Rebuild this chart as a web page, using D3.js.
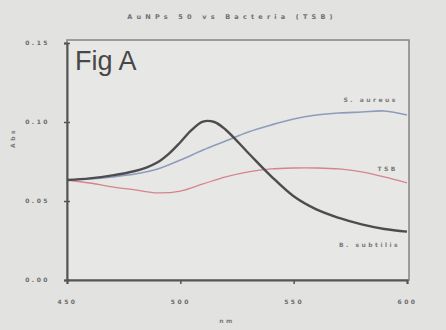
<!DOCTYPE html>
<html>
<head>
<meta charset="utf-8">
<script src="https://cdn.jsdelivr.net/npm/d3@7"></script>
<style>
  body { margin: 0; background: #e2e2e0; }
  svg { display: block; }
  .axis text { fill: #6a6a6a; font-family: "DejaVu Sans", sans-serif; font-size: 6px; letter-spacing: 2.5px; font-weight: bold; }
  .lbl { fill: #7a7a7a; font-family: "DejaVu Sans", sans-serif; font-size: 6px; letter-spacing: 2.5px; font-weight: bold; }
</style>
</head>
<body>
<svg id="chart" width="446" height="330"></svg>
<script>
const title = "AuNPs 50 vs Bacteria (TSB)";
const figLabel = "Fig A";
const xTicks = [450, 500, 550, 600];
const yTicks = [0, 0.05, 0.10, 0.15];
const yTickLabels = ["0.00", "0.05", "0.10", "0.15"];

const wavelengths = [450, 460, 470, 480, 490, 500, 510, 520, 530, 540, 550, 560, 570, 580, 590, 600];
const blueVals = [0.0633, 0.0639, 0.0652, 0.0671, 0.0703, 0.0759, 0.0823, 0.0880, 0.0937, 0.0981, 0.1019, 0.1044, 0.1057, 0.1063, 0.1070, 0.1044];
const redVals  = [0.0633, 0.0614, 0.0589, 0.0570, 0.0551, 0.0563, 0.0608, 0.0652, 0.0684, 0.0703, 0.0709, 0.0709, 0.0703, 0.0684, 0.0652, 0.0614];

const blackWl   = [450, 460, 470, 480, 485, 490, 495, 500, 505, 510, 515, 520, 530, 540, 550, 560, 570, 580, 590, 600];
const blackVals = [0.0633, 0.0643, 0.0662, 0.0690, 0.0712, 0.0745, 0.0800, 0.0872, 0.0950, 0.1003, 0.1000, 0.0951, 0.0804, 0.0658, 0.0530, 0.0447, 0.0393, 0.0352, 0.0323, 0.0306];

const seriesNames = ["S. aureus", "TSB", "B. subtilis"];

const svg = d3.select("#chart");
const margin = {top: 43, right: 39, bottom: 50, left: 67};
const width = 446 - margin.left - margin.right,
      height = 330 - margin.top - margin.bottom;

const x = d3.scaleLinear().domain([450, 600]).range([0, width]);
const y = d3.scaleLinear().domain([0, 0.15]).range([height, 0]);

const g = svg.append("g")
    .attr("transform", "translate(" + margin.left + "," + margin.top + ")");

// plot frame (top + right lighter)
g.append("rect")
    .attr("x", 0).attr("y", -3)
    .attr("width", width + 2).attr("height", height + 3)
    .attr("fill", "#e7e7e5")
    .attr("stroke", "#8a8a8a")
    .attr("stroke-width", 1.6);

// axes
g.append("g")
    .attr("class", "axis axis--x")
    .attr("transform", "translate(0," + height + ")")
    .call(d3.axisBottom(x).tickValues(xTicks).tickSize(4).tickPadding(16).tickFormat(d3.format("d")));

g.append("g")
    .attr("class", "axis axis--y")
    .call(d3.axisLeft(y).tickValues(yTicks).tickSize(3).tickPadding(14)
      .tickFormat((d, i) => yTickLabels[i]));

g.selectAll(".axis .domain").attr("stroke", "#555").attr("stroke-width", 2);
g.selectAll(".axis .tick line").attr("stroke", "#555").attr("stroke-width", 1.5);
g.select(".axis--y").selectAll(".tick line").attr("x2", 3).attr("x1", -3);

const line = d3.line()
    .x(d => x(d[0]))
    .y(d => y(d[1]))
    .curve(d3.curveCatmullRom.alpha(0.5));

const series = [
  {name: seriesNames[0], pts: d3.zip(wavelengths, blueVals), color: "#8e9cbc", w: 1.6},
  {name: seriesNames[1], pts: d3.zip(wavelengths, redVals), color: "#d5848c", w: 1.3},
  {name: seriesNames[2], pts: d3.zip(blackWl, blackVals), color: "#4d4d4f", w: 2.4}
];

g.selectAll(".series")
  .data(series)
  .enter().append("path")
    .attr("class", "series")
    .attr("fill", "none")
    .attr("stroke", d => d.color)
    .attr("stroke-width", d => d.w)
    .attr("d", d => line(d.pts));

// series labels near right end
const labelPos = [
  {wl: 596, dy: -13},
  {wl: 596, dy: -12},
  {wl: 597, dy: 15}
];
series.forEach((s, i) => {
  const last = s.pts[s.pts.length - 1];
  g.append("text")
    .attr("class", "lbl")
    .attr("x", x(labelPos[i].wl))
    .attr("y", y(last[1]) + labelPos[i].dy)
    .attr("text-anchor", "end")
    .text(s.name);
});

// Fig label
g.append("text")
    .attr("x", 8).attr("y", 27)
    .attr("fill", "#474747")
    .attr("font-family", "'Liberation Sans', sans-serif")
    .attr("font-size", 27)
    .text(figLabel);

// title
svg.append("text")
    .attr("x", 232).attr("y", 19)
    .attr("text-anchor", "middle")
    .attr("fill", "#707070")
    .attr("font-family", "'DejaVu Sans', sans-serif")
    .attr("font-weight", "bold")
    .attr("font-size", 6.5)
    .attr("letter-spacing", 4.2)
    .text(title);

// axis titles
svg.append("text")
    .attr("x", margin.left + width / 2 - 10).attr("y", 323)
    .attr("text-anchor", "middle")
    .attr("class", "lbl")
    .text("nm");

svg.append("text")
    .attr("class", "lbl")
    .attr("transform", "translate(15,138) rotate(-90)")
    .attr("text-anchor", "middle")
    .text("Abs");
</script>
</body>
</html>
